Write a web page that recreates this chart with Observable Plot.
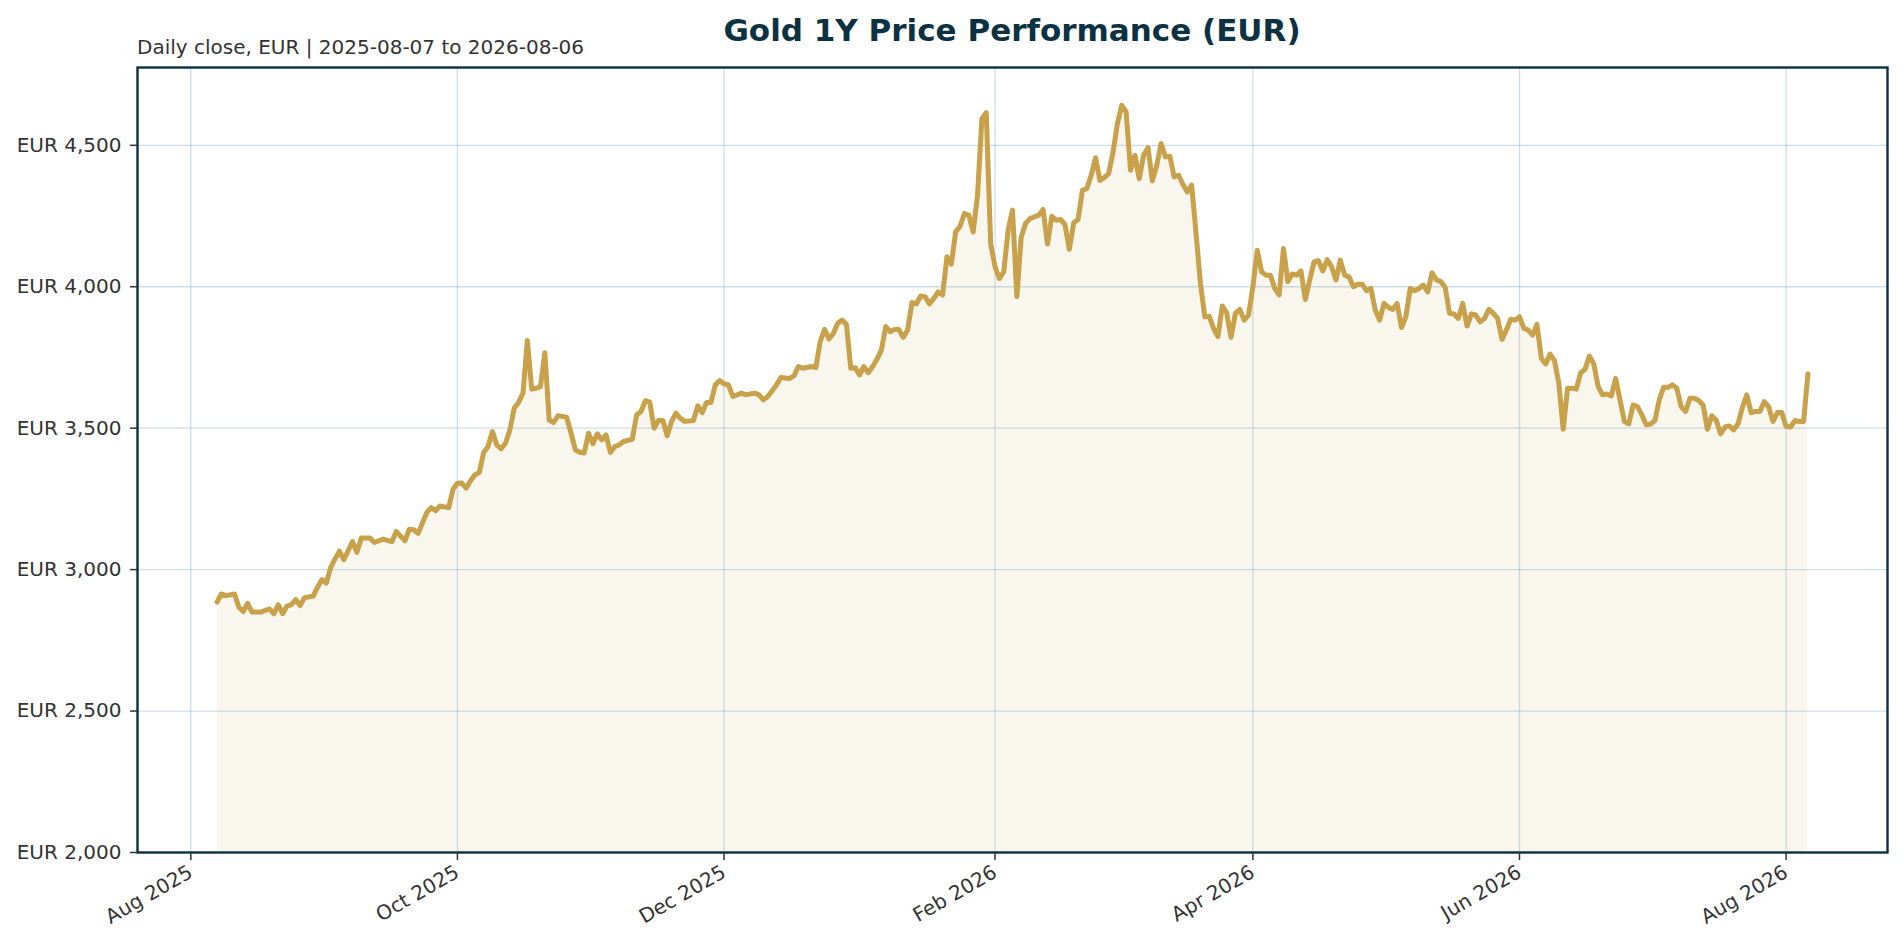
<!DOCTYPE html>
<html><head><meta charset="utf-8">
<script src="https://cdn.jsdelivr.net/npm/d3@7"></script>
<script src="https://cdn.jsdelivr.net/npm/@observablehq/plot@0.6"></script>
<style>
body{margin:0;background:#fff;font-family:"DejaVu Sans",sans-serif;}
#wrap{position:relative;width:1904px;height:944px;overflow:hidden;}
#head{position:relative;height:60px;}
#title{position:absolute;left:137px;width:1750px;top:15px;text-align:center;font-size:31px;line-height:31px;font-weight:bold;color:#0b3142;white-space:nowrap;}
#sub{position:absolute;left:137px;top:37px;font-size:20px;line-height:20px;color:#333;white-space:nowrap;}
#chart svg{display:block;}
</style></head><body>
<div id="wrap"><div id="head"><div id="title">Gold 1Y Price Performance (EUR)</div><div id="sub">Daily close, EUR | 2025-08-07 to 2026-08-06</div></div><div id="chart"></div></div>
<script>
const dates = [
"2025-08-07","2025-08-08","2025-08-09","2025-08-11","2025-08-12","2025-08-13","2025-08-14","2025-08-15","2025-08-17","2025-08-19","2025-08-20","2025-08-21","2025-08-22","2025-08-23","2025-08-24","2025-08-25","2025-08-26","2025-08-27","2025-08-29","2025-08-30","2025-08-31",
"2025-09-01","2025-09-02","2025-09-03","2025-09-04","2025-09-05","2025-09-07","2025-09-08","2025-09-09","2025-09-11","2025-09-12","2025-09-14","2025-09-16","2025-09-17","2025-09-19","2025-09-20","2025-09-21","2025-09-22","2025-09-24","2025-09-25","2025-09-26","2025-09-27","2025-09-29","2025-09-30",
"2025-10-01","2025-10-02","2025-10-03","2025-10-04","2025-10-05","2025-10-06","2025-10-07","2025-10-08","2025-10-09","2025-10-10","2025-10-11","2025-10-12","2025-10-13","2025-10-14","2025-10-15","2025-10-16","2025-10-17","2025-10-18","2025-10-19","2025-10-20","2025-10-21","2025-10-22","2025-10-23","2025-10-24","2025-10-26","2025-10-27","2025-10-28","2025-10-29","2025-10-30","2025-10-31",
"2025-11-01","2025-11-02","2025-11-03","2025-11-04","2025-11-05","2025-11-06","2025-11-07","2025-11-08","2025-11-10","2025-11-11","2025-11-12","2025-11-13","2025-11-14","2025-11-15","2025-11-16","2025-11-17","2025-11-18","2025-11-19","2025-11-20","2025-11-21","2025-11-22","2025-11-24","2025-11-25","2025-11-26","2025-11-27","2025-11-28","2025-11-29","2025-11-30",
"2025-12-01","2025-12-02","2025-12-03","2025-12-05","2025-12-06","2025-12-08","2025-12-09","2025-12-10","2025-12-11","2025-12-13","2025-12-14","2025-12-16","2025-12-17","2025-12-18","2025-12-19","2025-12-21","2025-12-22","2025-12-23","2025-12-24","2025-12-25","2025-12-26","2025-12-27","2025-12-28","2025-12-29","2025-12-30","2025-12-31",
"2026-01-01","2026-01-02","2026-01-03","2026-01-04","2026-01-05","2026-01-06","2026-01-07","2026-01-08","2026-01-09","2026-01-10","2026-01-11","2026-01-12","2026-01-13","2026-01-14","2026-01-15","2026-01-16","2026-01-17","2026-01-18","2026-01-19","2026-01-20","2026-01-21","2026-01-22","2026-01-23","2026-01-24","2026-01-25","2026-01-26","2026-01-27","2026-01-28","2026-01-29","2026-01-30","2026-01-31",
"2026-02-01","2026-02-02","2026-02-03","2026-02-04","2026-02-05","2026-02-06","2026-02-07","2026-02-08","2026-02-09","2026-02-11","2026-02-12","2026-02-13","2026-02-14","2026-02-15","2026-02-16","2026-02-17","2026-02-18","2026-02-19","2026-02-20","2026-02-21","2026-02-22","2026-02-23","2026-02-24","2026-02-25","2026-02-26","2026-02-27","2026-02-28",
"2026-03-01","2026-03-02","2026-03-03","2026-03-04","2026-03-05","2026-03-06","2026-03-07","2026-03-08","2026-03-09","2026-03-10","2026-03-11","2026-03-12","2026-03-13","2026-03-14","2026-03-15","2026-03-16","2026-03-17","2026-03-18","2026-03-19","2026-03-20","2026-03-21","2026-03-22","2026-03-23","2026-03-24","2026-03-25","2026-03-26","2026-03-27","2026-03-28","2026-03-29","2026-03-30","2026-03-31",
"2026-04-01","2026-04-02","2026-04-03","2026-04-04","2026-04-05","2026-04-06","2026-04-07","2026-04-08","2026-04-09","2026-04-10","2026-04-11","2026-04-12","2026-04-13","2026-04-14","2026-04-15","2026-04-16","2026-04-17","2026-04-18","2026-04-19","2026-04-20","2026-04-21","2026-04-22","2026-04-23","2026-04-24","2026-04-25","2026-04-26","2026-04-27","2026-04-28","2026-04-29","2026-04-30",
"2026-05-01","2026-05-02","2026-05-03","2026-05-04","2026-05-05","2026-05-06","2026-05-07","2026-05-08","2026-05-09","2026-05-10","2026-05-11","2026-05-12","2026-05-13","2026-05-14","2026-05-15","2026-05-16","2026-05-17","2026-05-18","2026-05-19","2026-05-20","2026-05-21","2026-05-22","2026-05-23","2026-05-24","2026-05-25","2026-05-26","2026-05-27","2026-05-28","2026-05-29","2026-05-30","2026-05-31",
"2026-06-01","2026-06-02","2026-06-03","2026-06-04","2026-06-05","2026-06-06","2026-06-07","2026-06-08","2026-06-09","2026-06-10","2026-06-11","2026-06-12","2026-06-13","2026-06-14","2026-06-15","2026-06-16","2026-06-17","2026-06-18","2026-06-19","2026-06-20","2026-06-21","2026-06-22","2026-06-23","2026-06-24","2026-06-25","2026-06-26","2026-06-27","2026-06-28","2026-06-29","2026-06-30",
"2026-07-01","2026-07-02","2026-07-03","2026-07-04","2026-07-05","2026-07-06","2026-07-07","2026-07-08","2026-07-09","2026-07-10","2026-07-11","2026-07-12","2026-07-13","2026-07-14","2026-07-15","2026-07-16","2026-07-17","2026-07-18","2026-07-19","2026-07-20","2026-07-21","2026-07-22","2026-07-23","2026-07-24","2026-07-25","2026-07-26","2026-07-27","2026-07-28","2026-07-29","2026-07-30","2026-07-31",
"2026-08-01","2026-08-02","2026-08-03","2026-08-04","2026-08-05","2026-08-06"
];
const closes = [
2885,2914,2908,2914,2867,2852,2881,2850,2850,2861,2844,2876,2844,2871,2876,2894,2873,2901,2906,2938,2965,
2952,3008,3038,3065,3035,3099,3061,3112,3112,3096,3108,3099,3135,3102,3143,3141,3128,3202,3219,3208,3225,3219,3285,
3305,3306,3288,3314,3335,3343,3414,3435,3488,3441,3427,3447,3494,3571,3591,3624,3810,3638,3641,3647,3767,3529,3520,3544,3539,3482,3423,3415,3412,3482,
3445,3480,3459,3476,3414,3435,3441,3453,3461,3547,3559,3597,3592,3500,3527,3527,3473,3524,3553,3535,3524,3527,3579,3555,3591,3591,3653,3668,
3657,3653,3612,3624,3618,3624,3618,3600,3612,3653,3679,3676,3685,3718,3712,3718,3714,3806,3849,3815,3835,3871,3882,3867,3712,3714,
3688,3718,3696,3718,3744,3776,3859,3841,3849,3849,3821,3847,3944,3939,3967,3965,3939,3959,3982,3971,4106,4080,4194,4214,4259,4253,4194,4324,4594,4615,4153,
4071,4029,4053,4200,4271,3965,4176,4224,4241,4253,4273,4151,4249,4235,4238,4220,4132,4226,4238,4341,4347,4394,4456,4376,4386,4400,4476,
4576,4641,4618,4412,4465,4382,4465,4492,4374,4429,4506,4459,4461,4388,4394,4362,4335,4359,4188,4012,3894,3896,3853,3824,3932,3908,3821,3906,3920,3882,3900,
4000,4129,4053,4041,4041,3994,3971,4135,4018,4045,4041,4056,3955,4024,4088,4092,4056,4096,4071,4024,4094,4041,4035,4000,4009,4009,3986,3994,3918,3882,
3941,3927,3920,3941,3856,3894,3994,3986,3994,4006,3982,4049,4024,4018,3998,3906,3904,3888,3941,3861,3904,3900,3876,3888,3920,3906,3888,3814,3847,3885,3882,
3894,3853,3847,3829,3867,3747,3727,3762,3739,3659,3496,3641,3641,3638,3696,3708,3755,3727,3647,3618,3621,3614,3676,3600,3524,3515,3582,3576,3547,3512,
3515,3527,3602,3645,3645,3653,3641,3576,3559,3606,3606,3598,3582,3496,3544,3529,3480,3504,3508,3494,3515,3574,3618,3555,3559,3559,3594,3576,3524,3555,3555,
3506,3504,3527,3524,3524,3692
];
const yTicks = [2000, 2500, 3000, 3500, 4000, 4500];
const xTickDates = ["2025-08-01","2025-10-01","2025-12-01","2026-02-01","2026-04-01","2026-06-01","2026-08-01"];

const utc = s => new Date(s + "T00:00:00Z");
const data = dates.map((d, i) => ({date: utc(d), close: closes[i]}));
const xTicks = xTickDates.map(utc);
const fmtEUR = v => "EUR " + d3.format(",")(v);

const chart = Plot.plot({
  width: 1904, height: 884,
  marginTop: 7, marginBottom: 92, marginLeft: 137, marginRight: 17,
  style: {fontFamily: "DejaVu Sans", fontSize: "20px", color: "#333", background: "#fff", overflow: "visible"},
  x: {type: "utc", domain: [new Date(Date.UTC(2025, 6, 19, 19, 12)), new Date(Date.UTC(2026, 7, 24, 4, 48))]},
  y: {domain: [2000, 4775]},
  marks: [
    Plot.areaY(data, {x: "date", y1: 2000, y2: "close", fill: "#f9f6ee"}),
    Plot.gridX({ticks: xTicks, stroke: "#7fa8bf", strokeOpacity: 0.38, strokeWidth: 1.3}),
    Plot.gridY({ticks: yTicks, stroke: "#7fa8bf", strokeOpacity: 0.38, strokeWidth: 1.3}),
    Plot.lineY(data, {x: "date", y: "close", stroke: "#c8a14a", strokeWidth: 5, strokeLinejoin: "round", strokeLinecap: "round"}),
    Plot.frame({stroke: "#0b3142", strokeWidth: 2.4}),
    Plot.axisX({ticks: xTicks, tickFormat: d3.utcFormat("%b %Y"), tickRotate: -30, tickSize: 8, tickPadding: 10, fontSize: 20, strokeWidth: 1.5, label: null}),
    Plot.axisY({ticks: yTicks, tickFormat: fmtEUR, tickSize: 7, tickPadding: 9, fontSize: 20, strokeWidth: 1.5, label: null})
  ]
});
document.getElementById("chart").append(chart);
</script>
</body></html>
